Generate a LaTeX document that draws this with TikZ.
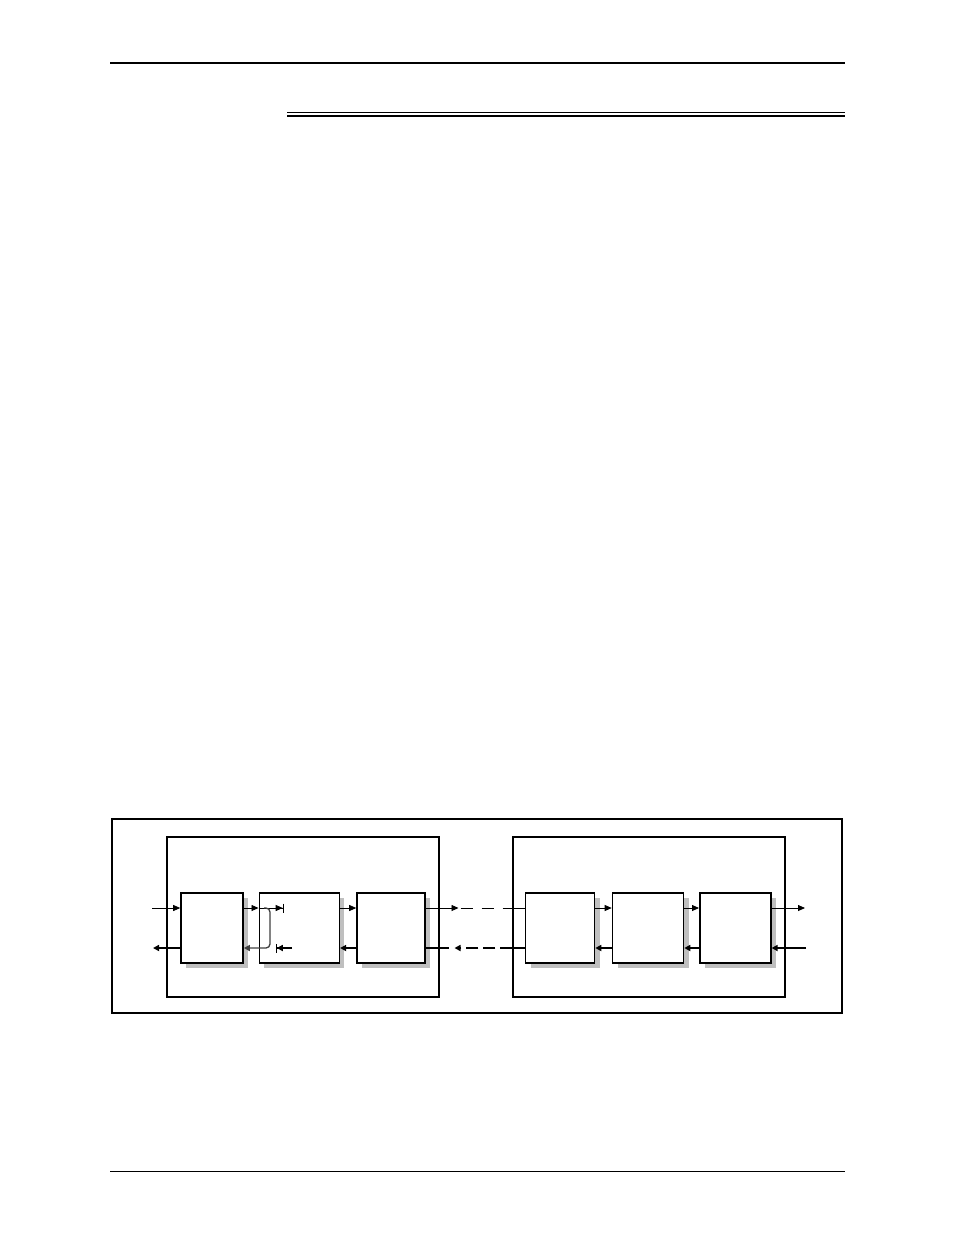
\documentclass[tikz,border=0pt]{standalone}
\usepackage{amsmath}
\usepackage{amssymb}
\usepackage{tikz}
\usetikzlibrary{shapes,shadows,arrows.meta}
\tikzstyle{stage}=[rectangle,draw,line width=1.6pt,fill=white,minimum height=70pt,inner sep=0pt,
  general shadow={fill=black!25,shadow xshift=5pt,shadow yshift=-5pt}]
\tikzstyle{unit}=[rectangle,draw,line width=1.4pt,minimum width=272pt,minimum height=160pt,inner sep=0pt]

\begin{document}
\begin{tikzpicture}[x=1pt,y=-1pt]
    \tikzstyle{fwd}=[line width=0.8pt,-{Triangle[length=7pt,width=6pt]}]
    \tikzstyle{ret}=[line width=1.8pt,-{Triangle[length=6pt,width=6pt]}]
    \tikzstyle{fwdstop}=[line width=0.8pt,-{Triangle[length=7pt,width=6pt]Bar[width=9pt,line width=0.8pt]}]
    \tikzstyle{retstop}=[line width=1.8pt,-{Triangle[length=6pt,width=6pt]Bar[width=9pt,line width=0.8pt]}]
    \tikzstyle{loop}=[line width=1.3pt,black!75,rounded corners=4pt,-{Triangle[length=6pt,width=6pt]}]
    \useasboundingbox (0,0) rectangle (954,1235);
    % page rules
    \draw[line width=2pt] (110,62.5) -- (845,62.5);
    \draw[line width=1pt] (287,112.5) -- (845,112.5);
    \draw[line width=2.6pt] (287,115.8) -- (845,115.8);
    \draw[line width=1pt] (110,1171) -- (845,1171);
    % frame and the two units
    \node[rectangle,draw,line width=2pt,minimum width=730pt,minimum height=194pt,inner sep=0pt] (frame) at (477,916) {};
    \node[unit] (U1) at (303,917) {};
    \node[unit] (U2) at (649,917) {};
    % stages
    \node[stage,minimum width=62pt] (S1) at (212,928) {};
    \node[stage,minimum width=80pt] (S2) at (299.3,928) {};
    \node[stage,minimum width=68pt] (S3) at (391,928) {};
    \node[stage,minimum width=69pt] (S4) at (560,928) {};
    \node[stage,minimum width=71pt] (S5) at (648,928) {};
    \node[stage,minimum width=71pt] (S6) at (735.3,928) {};
    % free ends
    \coordinate (inA) at (152,908);
    \coordinate (outA) at (153,948);
    \coordinate (outB) at (805,908);
    \coordinate (inB) at (806,948);
    \coordinate (stopU) at (283.5,908);
    \coordinate (stopL) at (276,948);
    \coordinate (srcL) at (292,948);
    \coordinate (tap) at (264,908);
    \coordinate (gapU) at (458.5,908);
    \coordinate (gapL) at (448.5,948);
    % forward path
    \draw[fwd] (inA) -- ([yshift=20pt]S1.west);
    \draw[fwd] ([yshift=20pt]S1.east) -- ([yshift=20pt]S2.west);
    \draw[fwdstop] ([yshift=20pt]S2.west) -- (stopU);
    \draw[fwd] ([yshift=20pt]S2.east) -- ([yshift=20pt]S3.west);
    \draw[fwd] ([yshift=20pt]S3.east) -- (gapU);
    \draw[line width=0.8pt,dash pattern=on 12pt off 9pt] ([xshift=2pt]gapU) -- (U2.west |- gapU);
    \draw[line width=0.8pt] (U2.west |- gapU) -- ([yshift=20pt]S4.west);
    \draw[fwd] ([yshift=20pt]S4.east) -- ([yshift=20pt]S5.west);
    \draw[fwd] ([yshift=20pt]S5.east) -- ([yshift=20pt]S6.west);
    \draw[fwd] ([yshift=20pt]S6.east) -- (outB);
    % return path
    \draw[ret] (inB) -- ([yshift=-20pt]S6.east);
    \draw[ret] ([yshift=-20pt]S6.west) -- ([yshift=-20pt]S5.east);
    \draw[ret] ([yshift=-20pt]S5.west) -- ([yshift=-20pt]S4.east);
    \draw[line width=1.8pt] ([yshift=-20pt]S4.west) -- (U2.west |- gapL);
    \draw[ret,dash pattern=on 12pt off 5pt] (U2.west |- gapL) -- ([xshift=6pt]gapL);
    \draw[line width=1.8pt] (gapL) -- ([yshift=-20pt]S3.east);
    \draw[ret] ([yshift=-20pt]S3.west) -- ([yshift=-20pt]S2.east);
    \draw[retstop] (srcL) -- (stopL);
    \draw[ret] ([yshift=-20pt]S1.west) -- (outA);
    % loop back
    \draw[loop] (tap) -| (270,948) -- ([yshift=-20pt]S1.east);
\end{tikzpicture}
\end{document}
